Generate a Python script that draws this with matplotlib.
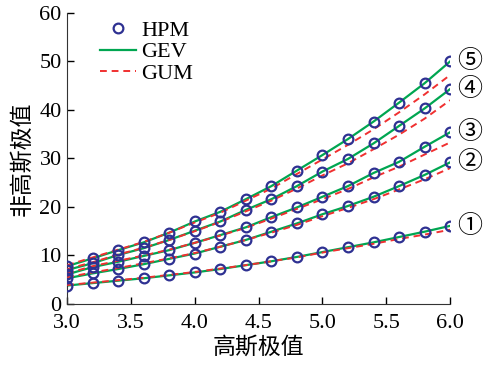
import matplotlib
matplotlib.use('Agg')
import matplotlib.pyplot as plt
import numpy as np

# x values (Gaussian extreme value)
x = [3.0, 3.2, 3.4, 3.6, 3.8, 4.0, 4.2, 4.4, 4.6, 4.8, 5.0, 5.2, 5.4, 5.6, 5.8, 6.0]

# HPM points (GEV curve passes through them)
hpm1 = [3.8, 4.3, 4.8, 5.3, 5.9, 6.5, 7.2, 8.0, 8.8, 9.7, 10.7, 11.7, 12.7, 13.8, 14.9, 16.1]
hpm2 = [5.3, 6.3, 7.2, 8.2, 9.3, 10.4, 11.8, 13.2, 14.9, 16.6, 18.5, 20.2, 22.1, 24.3, 26.6, 29.2]
hpm3 = [6.1, 7.6, 8.7, 9.9, 11.1, 12.6, 14.2, 15.8, 17.9, 19.9, 22.1, 24.3, 27.0, 29.3, 32.4, 35.4]
hpm4 = [7.0, 8.4, 10.1, 11.5, 13.2, 15.1, 17.0, 19.4, 21.6, 24.3, 27.3, 29.9, 33.1, 36.7, 40.3, 44.3]
hpm5 = [7.8, 9.4, 11.1, 12.7, 14.7, 17.0, 19.0, 21.6, 24.3, 27.5, 30.7, 34.0, 37.6, 41.5, 45.5, 50.0]

# GUM curves
gum1 = [3.9, 4.4, 4.9, 5.4, 6.0, 6.6, 7.3, 8.0, 8.8, 9.6, 10.6, 11.5, 12.4, 13.4, 14.3, 15.3]
gum2 = [5.5, 6.5, 7.4, 8.4, 9.4, 10.5, 11.8, 13.2, 14.7, 16.3, 18.1, 19.8, 21.6, 23.6, 25.7, 28.0]
gum3 = [6.3, 7.8, 8.9, 10.0, 11.2, 12.6, 14.1, 15.7, 17.6, 19.6, 21.6, 23.7, 26.1, 28.3, 30.8, 33.3]
gum4 = [7.2, 8.6, 10.2, 11.6, 13.2, 15.0, 16.9, 19.1, 21.3, 23.8, 26.5, 29.0, 31.9, 34.9, 38.2, 42.0]
gum5 = [8.0, 9.6, 11.2, 12.8, 14.7, 16.8, 18.8, 21.3, 23.8, 26.8, 29.8, 32.8, 36.0, 39.5, 43.2, 47.2]

tags = ['①', '②', '③', '④', '⑤']

hpm = [hpm1, hpm2, hpm3, hpm4, hpm5]
gum = [gum1, gum2, gum3, gum4, gum5]

plt.rcParams['font.family'] = ['Liberation Serif', 'Noto Sans CJK SC', 'DejaVu Sans']
plt.rcParams['font.size'] = 16

fig = plt.figure(figsize=(4.83, 3.68), dpi=100)
ax = fig.add_axes([0.139, 0.174, 0.793, 0.791])

green = '#00a651'
red = '#f03030'
blue = '#2e3192'

for i in range(5):
    ax.plot(x, hpm[i], color=green, lw=1.6, zorder=2, label='GEV' if i == 0 else None)
    ax.plot(x, gum[i], color=red, lw=1.4, ls=(0, (3.5, 2.5)), zorder=3, label='GUM' if i == 0 else None)
    ax.plot(x, hpm[i], 'o', mfc='none', mec=blue, mew=1.6, ms=7, zorder=4, label='HPM' if i == 0 else None)
    ax.annotate(tags[i], (x[-1], hpm[i][-1]), xytext=(5, 0), textcoords='offset points',
                va='center', ha='left', fontsize=18, family=['Noto Sans CJK SC', 'DejaVu Sans'],
                annotation_clip=False)

ax.set_xlim(3.0, 6.0)
ax.set_ylim(0, 60)
ax.set_xticks(np.arange(3.0, 6.01, 0.5))
ax.set_xticklabels(['%.1f' % v for v in np.arange(3.0, 6.01, 0.5)])
ax.set_yticks(range(0, 61, 10))
ax.tick_params(direction='in', length=5, width=1, labelsize=16)
ax.tick_params(axis='x', pad=7)
ax.tick_params(axis='y', pad=4)
ax.spines['top'].set_visible(False)
ax.spines['right'].set_visible(False)
for s in ['left', 'bottom']:
    ax.spines[s].set_color('#333333')

ax.set_xlabel('高斯极值', fontsize=16.5, labelpad=3)
ax.set_ylabel('非高斯极值', fontsize=16.5, labelpad=4)

h, l = ax.get_legend_handles_labels()
order = [l.index('HPM'), l.index('GEV'), l.index('GUM')]
ax.legend([h[k] for k in order], [l[k] for k in order], loc='upper left',
          bbox_to_anchor=(0.052, 1.021), frameon=False, fontsize=16,
          handlelength=1.6, handletextpad=0.25, labelspacing=0.05, borderaxespad=0.2)

fig.savefig('out.png', dpi=100)
